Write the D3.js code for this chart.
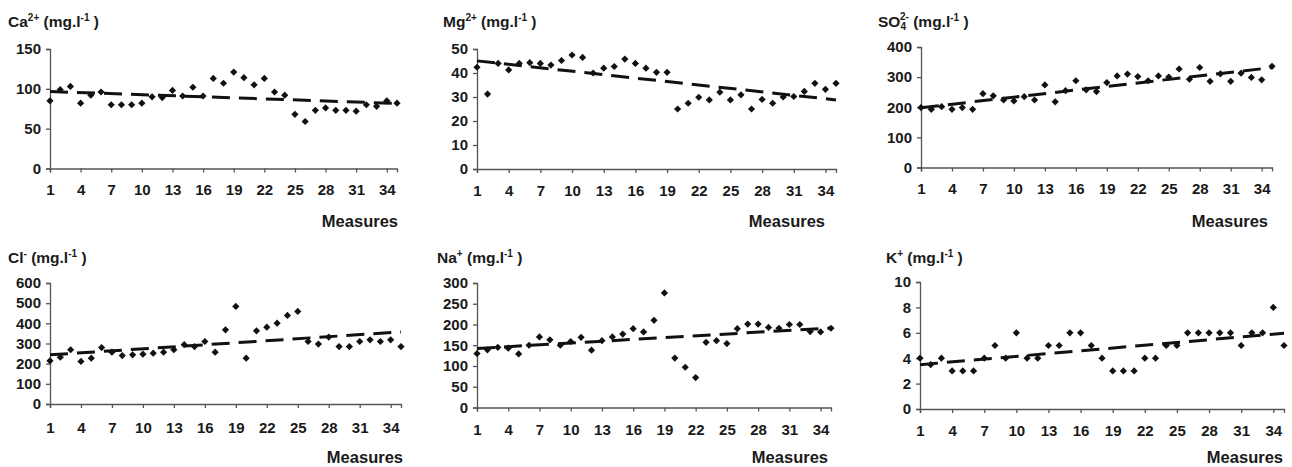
<!DOCTYPE html>
<html>
<head>
<meta charset="utf-8">
<script src="https://cdn.jsdelivr.net/npm/d3@7"></script>
<style>
  html, body { margin: 0; padding: 0; background: #fff; }
  svg text { font-family: "Liberation Sans", Arial, sans-serif; font-weight: bold; fill: #1a1a1a; }
</style>
</head>
<body>
<div id="chart"></div>
<script>
// Measures 1..35
var measures = d3.range(1, 36)

var ca  = [85, 99, 103, 82, 92, 96, 80, 80, 80, 82, 90, 89, 98, 91, 102, 91, 113, 107, 121, 114, 105, 113, 96, 92, 68, 59, 73, 76, 73, 73, 72, 80, 78, 85, 82]
var mg  = [42.4, 31.2, 44, 41.3, 44, 44.3, 44, 43.3, 45.2, 47.5, 46.5, 40, 42, 42.7, 45.8, 44, 42, 40.3, 40.3, 25, 27.4, 29.9, 28.8, 32, 28.8, 30.9, 25, 29, 27.4, 30, 30.2, 32.3, 35.7, 33.2, 35.7]
var so4 = [199, 193, 202, 193, 199, 193, 245, 238, 224, 221, 235, 224, 274, 218, 255, 288, 258, 252, 282, 304, 310, 302, 288, 304, 300, 327, 293, 332, 286, 311, 286, 313, 299, 291, 336]
var cl  = [214, 232, 269, 211, 227, 280, 257, 240, 244, 247, 252, 257, 269, 294, 285, 310, 257, 368, 484, 227, 363, 381, 401, 439, 459, 310, 297, 332, 285, 285, 310, 318, 310, 318, 285]
var na  = [130, 139, 145, 143, 129, 150, 170, 163, 150, 159, 169, 138, 161, 170, 177, 190, 182, 210, 276, 119, 97, 72, 157, 161, 154, 190, 201, 201, 193, 191, 200, 200, 183, 182, 191]
var k   = [4, 3.5, 4, 3, 3, 3, 4, 5, 4, 6, 4, 4, 5, 5, 6, 6, 5, 4, 3, 3, 3, 4, 4, 5, 5, 6, 6, 6, 6, 6, 5, 6, 6, 8, 5]

// y axis: [max, step]
var yMax  = [150, 50, 400, 600, 300, 10]
var yStep = [50, 10, 100, 100, 50, 2]

// title parts: [base, sub, sup]
var titles = [
  ['Ca', '', '2+'],
  ['Mg', '', '2+'],
  ['SO', '4', '2-'],
  ['Cl', '', '-'],
  ['Na', '', '+'],
  ['K', '', '+']
]
var xTickLabels = [1, 4, 7, 10, 13, 16, 19, 22, 25, 28, 31, 34]
var series = [ca, mg, so4, cl, na, k]

// Layout (pixel boxes of each panel)
var panels = [
  {x0: 50,  x1: 397,  y0: 49,  y1: 168.5, tx: 8,   ty: 27,  mx: 398,  my: 227, pad: 12},
  {x0: 477, x1: 836,  y0: 49,  y1: 169,   tx: 443, ty: 27,  mx: 825,  my: 227, pad: 12},
  {x0: 921, x1: 1272, y0: 47,  y1: 167.5, tx: 878, ty: 27,  mx: 1268, my: 227, pad: 12},
  {x0: 50,  x1: 401,  y0: 283, y1: 404,   tx: 8,   ty: 263, mx: 403,  my: 463, pad: 14},
  {x0: 477, x1: 831,  y0: 283, y1: 407.5, tx: 437, ty: 263, mx: 828,  my: 463, pad: 13},
  {x0: 920, x1: 1284, y0: 282, y1: 409,   tx: 886, ty: 263, mx: 1283, my: 463, pad: 12}
]

var svg = d3.select('#chart').append('svg')
  .attr('width', 1292)
  .attr('height', 467)

function linreg(xs, ys) {
  var mx = d3.mean(xs), my = d3.mean(ys)
  var num = d3.sum(xs, function(x, i){ return (x - mx) * (ys[i] - my) })
  var den = d3.sum(xs, function(x){ return (x - mx) * (x - mx) })
  var b = num / den
  return function(x){ return my + b * (x - mx) }
}

series.forEach(function(values, p) {
  var box = panels[p]
  var g = svg.append('g')

  var x = d3.scaleLinear().domain([1, 35]).range([box.x0, box.x1])
  var y = d3.scaleLinear().domain([0, yMax[p]]).range([box.y1, box.y0])

  // Title
  var t = titles[p]
  var title = g.append('text')
    .attr('x', box.tx)
    .attr('y', box.ty)
    .style('font-size', '15.5px')
  title.append('tspan').text(t[0])
  if (t[1]) {
    title.append('tspan').attr('dy', 3).style('font-size', '10px').text(t[1])
    title.append('tspan').attr('dx', -6).attr('dy', -10).style('font-size', '10px').text(t[2])
    title.append('tspan').attr('dy', 7).text('\u00a0(mg.l')
  } else {
    title.append('tspan').attr('dy', -6).style('font-size', '10px').text(t[2])
    title.append('tspan').attr('dy', 6).text('\u00a0(mg.l')
  }
  title.append('tspan').attr('dy', -6).style('font-size', '10px').text('-1')
  title.append('tspan').attr('dy', 6).text('\u00a0)')

  // Axes
  var yAxis = d3.axisLeft(y)
    .tickValues(d3.range(0, yMax[p] + yStep[p] / 2, yStep[p]))
    .tickSize(4)
    .tickPadding(5)
    .tickFormat(d3.format('d'))
  var yg = g.append('g')
    .attr('transform', 'translate(' + box.x0 + ',0)')
    .call(yAxis)

  var xAxis = d3.axisBottom(x)
    .tickValues(xTickLabels)
    .tickSize(4)
    .tickPadding(box.pad)
    .tickFormat(d3.format('d'))
  var xg = g.append('g')
    .attr('transform', 'translate(0,' + box.y1 + ')')
    .call(xAxis)

  ;[yg, xg].forEach(function(ax){
    ax.select('.domain').attr('stroke', '#555').attr('stroke-width', 1.3)
    ax.selectAll('.tick line').attr('stroke', '#555').attr('stroke-width', 1.3)
    ax.selectAll('.tick text')
      .style('font-size', '15px')
      .style('font-family', '"Liberation Sans", Arial, sans-serif')
      .style('font-weight', 'bold')
      .attr('fill', '#1a1a1a')
  })

  // "Measures" label
  g.append('text')
    .attr('x', box.mx)
    .attr('y', box.my)
    .attr('text-anchor', 'end')
    .style('font-size', '16.5px')
    .text('Measures')

  // Linear trend line
  var fit = linreg(measures, values)
  g.append('line')
    .attr('x1', x(1)).attr('y1', y(fit(1)))
    .attr('x2', x(35)).attr('y2', y(fit(35)))
    .attr('stroke', '#111')
    .attr('stroke-width', 3)
    .attr('stroke-dasharray', '18,9')

  // Points
  var diamond = d3.symbol().type(d3.symbolSquare).size(26)
  g.selectAll('.pt')
    .data(values)
    .enter().append('path')
      .attr('class', 'pt')
      .attr('d', diamond)
      .attr('transform', function(d, i){ return 'translate(' + x(measures[i]) + ',' + y(d) + ') rotate(45)' })
      .attr('fill', '#111')
})
</script>
</body>
</html>
